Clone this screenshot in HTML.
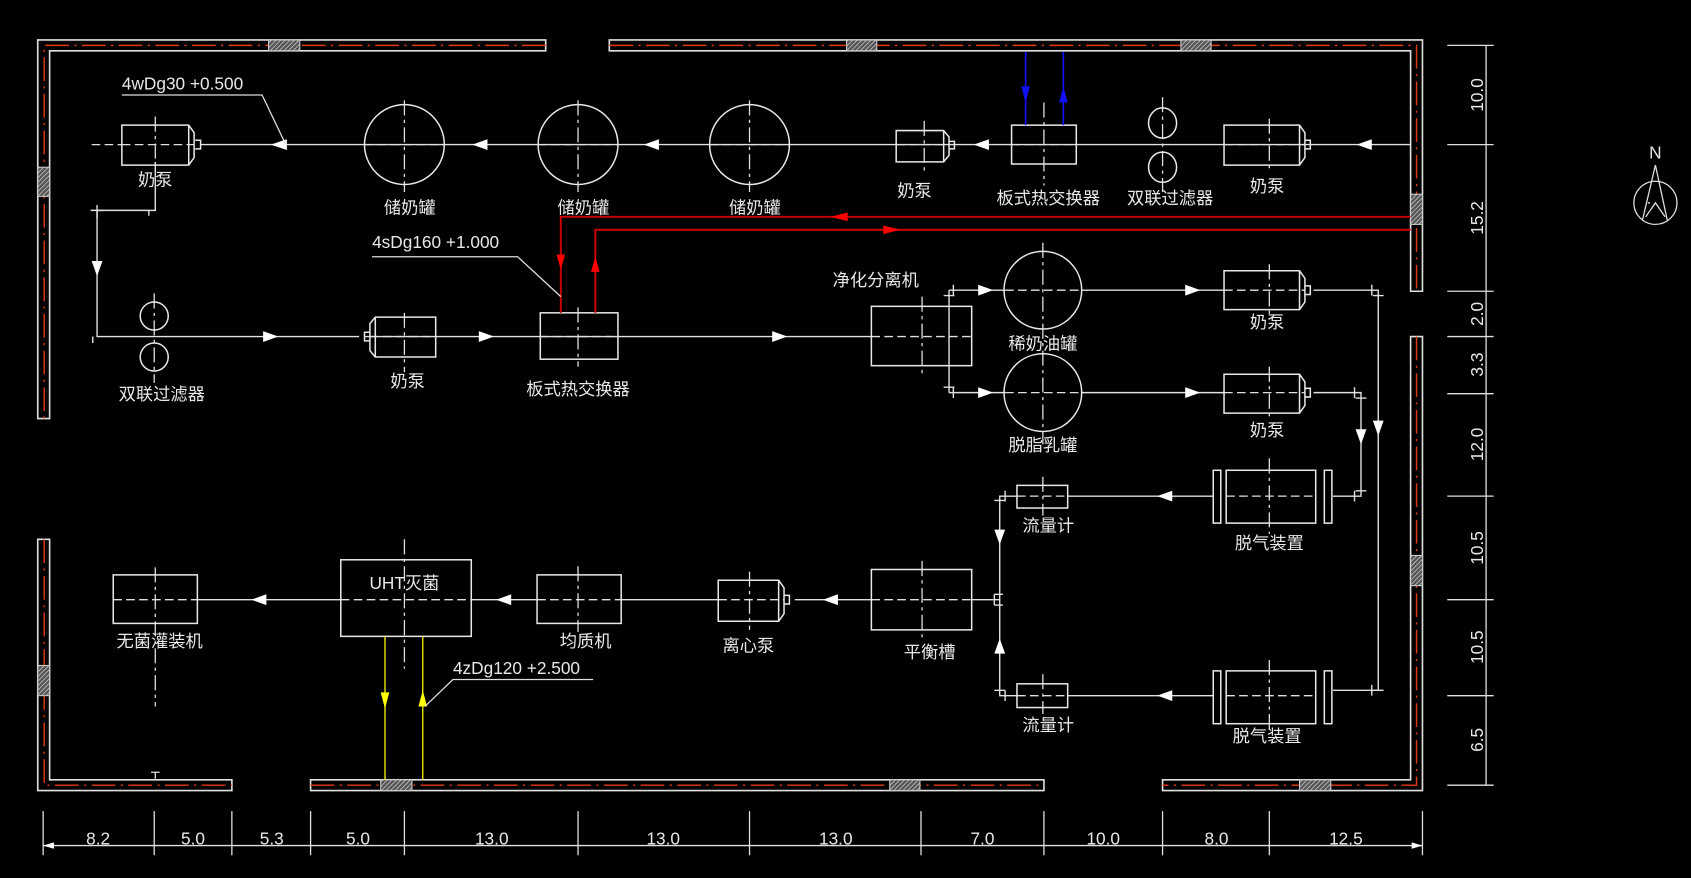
<!DOCTYPE html>
<html><head><meta charset="utf-8"><style>
html,body{margin:0;padding:0;background:#000;}
svg{display:block;}
text{font-family:"Liberation Sans","Noto Sans CJK SC",sans-serif;fill:#e8e8e8;font-size:16px;}
</style></head><body>
<svg width="1691" height="878" viewBox="0 0 1568 814" xmlns="http://www.w3.org/2000/svg">
<defs>
<pattern id="h" width="3" height="3" patternUnits="userSpaceOnUse" patternTransform="rotate(45)">
<rect width="3" height="3" fill="#555"/><line x1="0" y1="0" x2="0" y2="3" stroke="#ddd" stroke-width="1.2"/></pattern>
</defs>
<rect width="1568" height="814" fill="#000"/>
<!-- walls -->
<g fill="none" stroke="#e0e0e0" stroke-width="1.5">
<path d="M506,37 H35 V388 H46 V47 H506 Z"/>
<path d="M565,37 H1319 V270 H1308 V47 H565 Z"/>
<path d="M1308,312 H1319 V733 H1078 V723 H1308 Z"/>
<path d="M35,500 H46 V723 H215 V733 H35 Z"/>
<rect x="288" y="723" width="680" height="10"/>
</g>
<g fill="none" stroke="#e03a10" stroke-width="1.3" stroke-dasharray="22,5,2,5">
<path d="M506,42 H41 V388"/>
<path d="M565,42 H1313.5 V270"/>
<path d="M1313.5,312 V728 H1078"/>
<path d="M41,500 V728 H215"/>
<path d="M288,728 H968"/>
</g>
<g fill="url(#h)" stroke="#ccc" stroke-width="1">
<rect x="249" y="37" width="29" height="10"/><rect x="785" y="37" width="28" height="10"/><rect x="1095" y="37" width="28" height="10"/>
<rect x="35" y="155" width="11" height="27"/><rect x="1308" y="180" width="11" height="28"/><rect x="1308" y="515" width="11" height="28"/>
<rect x="35" y="617" width="11" height="28"/>
<rect x="353" y="723" width="29" height="10"/><rect x="825" y="723" width="28" height="10"/><rect x="1205" y="723" width="29" height="10"/>
</g>

<!-- pipes white -->
<g fill="none" stroke="#e0e0e0" stroke-width="1.3">
<path d="M1308,134 H186"/>
<path d="M144,150 V195 H90 V312 H333"/>
<path d="M338,312 H808"/>
<path d="M880,269 V364 M880,269 H932 M880,364 H932 M1003,269 H1135 M1003,364 H1135"/>
<path d="M1218,269 H1278 V640 H1236 M1218,364 H1262 V460 H1236"/>
<path d="M1125,460 H990 M943,460 H927 V645 H943 M990,645 H1125"/>
<path d="M927,556 H901 M808,556 H737 M666,556 H576 M498,556 H437 M316,556 H183"/>
<!-- flange ticks -->
<path d="M90,190 V202 M84,195 H96 M138,195 V200 M86,312 V318 M884,264 V274 M884,359 V369 M875,274 H885 M875,359 H885 M1272,264 V274 M1273,274 H1283 M1256,359 V369 M1257,369 H1267 M1256,455 V465 M1257,455 H1267 M1272,635 V645 M1273,640 H1283 M932,455 V465 M922,464 H932 M932,640 V650 M922,640 H932 M922,551 V561 M922,551 H930 M922,561 H930"/>
</g>
<!-- dashed centerlines -->
<g fill="none" stroke="#e0e0e0" stroke-width="1.2" stroke-dasharray="8,4">
<path d="M85,134 H113 M113,134 H180 M338,134 H412 M499,134 H573 M658,134 H732 M831,134 H880 M938,134 H998 M1135,134 H1210"/>
<path d="M343,312 H404 M501,312 H573 M808,312 H901 M932,269 H1003 M932,364 H1003 M1135,269 H1210 M1135,364 H1210"/>
<path d="M1137,460 H1220 M943,460 H990 M1137,645 H1220 M943,645 H990 M808,556 H901 M666,556 H727 M498,556 H576 M316,556 H437 M105,556 H183"/>
</g>
<g fill="none" stroke="#e0e0e0" stroke-width="1.2" stroke-dasharray="14,4,3,4">
<path d="M144,108 V160 M375,93 V178 M536,93 V178 M695,93 V178 M857,112 V160 M968,95 V172 M1078,90 V178 M1177,110 V160"/>
<path d="M143,272 V355 M375,290 V345 M536,285 V340 M855,275 V348 M967,225 V412 M1177,245 V292 M1177,340 V388"/>
<path d="M1177,425 V495 M1177,612 V680 M967,442 V478 M967,625 V662 M855,520 V592 M695,530 V584 M536,525 V586 M375,500 V620 M144,526 V655"/>
</g>
<path d="M140,716 H148 M144,716 V722" stroke="#e0e0e0" stroke-width="1.2" fill="none"/>

<!-- equipment -->
<g fill="none" stroke="#e8e8e8" stroke-width="1.4">
<!-- pumps (chamfer right) -->
<path d="M113,116 H175 L180,123 V146 L175,153 H113 Z M175,116 V153 M181,130 H186 V138 H181"/>
<path d="M831,121 H875 L880,127 V144 L875,150 H831 Z M875,121 V150 M880,131 H885 V138 H880"/>
<path d="M1135,116 H1205 L1210,123 V146 L1205,153 H1135 Z M1205,116 V153 M1210,130 H1215 V138 H1210"/>
<path d="M1135,251 H1205 L1210,258 V280 L1205,287 H1135 Z M1205,251 V287 M1210,265 H1215 V273 H1210"/>
<path d="M1135,347 H1205 L1210,354 V376 L1205,383 H1135 Z M1205,347 V383 M1210,360 H1215 V368 H1210"/>
<path d="M666,538 H722 L727,545 V569 L722,576 H666 Z M722,538 V576 M727,552 H732 V560 H727"/>
<!-- pump chamfer left -->
<path d="M404,294 H348 L343,300 V325 L348,331 H404 Z M348,294 V331 M343,308 H338 V316 H343"/>
<!-- tanks -->
<circle cx="375" cy="134" r="37"/><circle cx="536" cy="134" r="37"/><circle cx="695" cy="134" r="37"/>
<circle cx="967" cy="269" r="36"/><circle cx="967" cy="364" r="36"/>
<ellipse cx="1078" cy="114" rx="13" ry="14"/><ellipse cx="1078" cy="155" rx="13" ry="14"/>
<ellipse cx="143" cy="293" rx="13" ry="13"/><ellipse cx="143" cy="331" rx="13" ry="13"/>
<!-- boxes -->
<rect x="938" y="116" width="60" height="36"/>
<rect x="501" y="290" width="72" height="43"/>
<rect x="808" y="284" width="93" height="55"/>
<rect x="1137" y="436" width="83" height="49"/><rect x="1125" y="436" width="7" height="49"/><rect x="1228" y="436" width="7" height="49"/>
<rect x="1137" y="622" width="83" height="49"/><rect x="1125" y="622" width="7" height="49"/><rect x="1228" y="622" width="7" height="49"/>
<rect x="943" y="450" width="47" height="21"/><rect x="943" y="634" width="47" height="22"/>
<rect x="808" y="528" width="93" height="56"/>
<rect x="498" y="533" width="78" height="45"/>
<rect x="316" y="519" width="121" height="71"/>
<rect x="105" y="533" width="78" height="45"/>
</g>

<!-- arrows white -->
<g fill="#fff">
<polygon points="251,134 266,129 266,139"/>
<polygon points="438,134 452,129 452,139"/>
<polygon points="597,134 611,129 611,139"/>
<polygon points="903,134 917,129 917,139"/>
<polygon points="1258,134 1272,129 1272,139"/>
<polygon points="90,256 85,242 95,242"/>
<polygon points="258,312 244,307 244,317"/>
<polygon points="458,312 444,307 444,317"/>
<polygon points="730,312 716,307 716,317"/>
<polygon points="921,269 907,264 907,274"/>
<polygon points="921,364 907,359 907,369"/>
<polygon points="1113,269 1099,264 1099,274"/>
<polygon points="1113,364 1099,359 1099,369"/>
<polygon points="1278,404 1273,390 1283,390"/>
<polygon points="1262,412 1257,398 1267,398"/>
<polygon points="1073,460 1087,455 1087,465"/>
<polygon points="1073,645 1087,640 1087,650"/>
<polygon points="927,505 922,491 932,491"/>
<polygon points="927,592 922,606 932,606"/>
<polygon points="763,556 777,551 777,561"/>
<polygon points="460,556 474,551 474,561"/>
<polygon points="233,556 247,551 247,561"/>
</g>

<!-- blue -->
<g stroke="#1010ff" stroke-width="1.5" fill="#1010ff">
<line x1="951" y1="48" x2="951" y2="116"/><line x1="986" y1="48" x2="986" y2="116"/>
<polygon points="951,95 947,80 955,80" stroke="none"/><polygon points="986,80 982,95 990,95" stroke="none"/>
</g>
<!-- red -->
<g stroke="#cc0000" stroke-width="1.8" fill="none">
<path d="M1308,201 H520 V290"/><path d="M552,290 V213 H1308"/>
</g>
<g fill="#ff0000">
<polygon points="770,201 786,197 786,205"/><polygon points="835,213 819,209 819,217"/>
<polygon points="520,250 516,236 524,236"/><polygon points="552,238 548,252 556,252"/>
</g>
<!-- yellow -->
<g stroke="#e8e800" stroke-width="1.3"><line x1="357" y1="590" x2="357" y2="723"/><line x1="392" y1="590" x2="392" y2="723"/></g>
<g fill="#ffff00"><polygon points="357,657 353,642 361,642"/><polygon points="392,640 388,655 396,655"/></g>

<!-- leaders -->
<g fill="none" stroke="#ddd" stroke-width="1.2">
<path d="M113,88 H243 L265,134"/>
<path d="M345,238 H480 L520,275"/>
<path d="M550,630 H420 L394,655"/>
</g>
<text x="113" y="83" font-size="16">4wDg30  +0.500</text>
<text x="345" y="230" font-size="16">4sDg160  +1.000</text>
<text x="420" y="625" font-size="16">4zDg120  +2.500</text>

<!-- labels -->
<g text-anchor="middle" font-size="16">
<text x="144" y="172">奶泵</text>
<text x="380" y="198">储奶罐</text><text x="541" y="198">储奶罐</text><text x="700" y="198">储奶罐</text>
<text x="848" y="182">奶泵</text><text x="972" y="189">板式热交换器</text><text x="1085" y="189">双联过滤器</text><text x="1175" y="178">奶泵</text>
<text x="150" y="371">双联过滤器</text><text x="378" y="359">奶泵</text><text x="536" y="366">板式热交换器</text>
<text x="812" y="265">净化分离机</text>
<text x="967" y="324">稀奶油罐</text><text x="1175" y="304">奶泵</text>
<text x="967" y="418">脱脂乳罐</text><text x="1175" y="404">奶泵</text>
<text x="972" y="493">流量计</text><text x="1177" y="509">脱气装置</text>
<text x="862" y="610">平衡槽</text>
<text x="972" y="678">流量计</text><text x="1175" y="688">脱气装置</text>
<text x="694" y="604">离心泵</text><text x="543" y="600">均质机</text>
<text x="375" y="546">UHT灭菌</text><text x="148" y="600">无菌灌装机</text>
</g>

<!-- bottom dims -->
<g stroke="#e0e0e0" stroke-width="1.2" fill="none">
<path d="M40,784 H1319"/>
<path d="M40,752 V793 M143,752 V793 M215,752 V793 M288,752 V793 M375,752 V793 M536,752 V793 M695,752 V793 M854,752 V793 M968,752 V793 M1078,752 V793 M1177,752 V793 M1319,752 V793"/>
<path d="M1342,42 H1385 M1342,134 H1385 M1342,270 H1385 M1342,312 H1385 M1342,365 H1385 M1342,460 H1385 M1342,556 H1385 M1342,645 H1385 M1342,728 H1385 M1378,42 V728"/>
</g>
<g fill="#fff">
<polygon points="1319,784 1309,781 1309,787"/><polygon points="40,784 50,781 50,787"/>
</g>
<g text-anchor="middle" font-size="15">
<text x="91" y="783">8.2</text><text x="179" y="783">5.0</text><text x="252" y="783">5.3</text><text x="332" y="783">5.0</text>
<text x="456" y="783">13.0</text><text x="615" y="783">13.0</text><text x="775" y="783">13.0</text><text x="911" y="783">7.0</text>
<text x="1023" y="783">10.0</text><text x="1128" y="783">8.0</text><text x="1248" y="783">12.5</text>
</g>
<g text-anchor="middle" font-size="15">
<text transform="translate(1375,88) rotate(-90)">10.0</text>
<text transform="translate(1375,202) rotate(-90)">15.2</text>
<text transform="translate(1375,291) rotate(-90)">2.0</text>
<text transform="translate(1375,338) rotate(-90)">3.3</text>
<text transform="translate(1375,412) rotate(-90)">12.0</text>
<text transform="translate(1375,508) rotate(-90)">10.5</text>
<text transform="translate(1375,600) rotate(-90)">10.5</text>
<text transform="translate(1375,686) rotate(-90)">6.5</text>
</g>

<!-- compass -->
<g fill="none" stroke="#ddd" stroke-width="1.2">
<circle cx="1535" cy="188" r="20"/>
<path d="M1535,153 L1523,204 M1535,153 L1546,204 M1528,188 L1530,188 M1526,201 L1535,188 L1544,201"/>
</g>
<text x="1535" y="147" text-anchor="middle" font-size="10">N</text>
</svg>
</body></html>
